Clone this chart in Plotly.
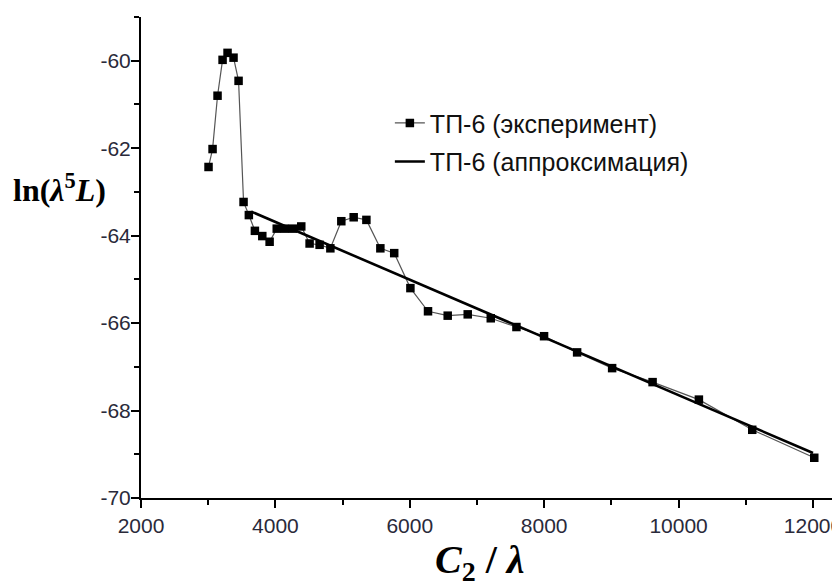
import plotly.graph_objects as go

# Experimental data: C2/lambda vs ln(lambda^5 L)
exp_x = [3005, 3065, 3139, 3214, 3288, 3377, 3452, 3526, 3605, 3695, 3805, 3914,
         4020, 4140, 4260, 4385, 4509, 4658, 4818, 4981, 5165, 5354, 5562, 5768,
         6009, 6271, 6564, 6862, 7205, 7587, 7998, 8490, 9011, 9613, 10302, 11096, 12019]
exp_y = [-62.43, -62.02, -60.80, -59.98, -59.82, -59.93, -60.46, -63.23, -63.53, -63.89,
         -64.01, -64.14, -63.84, -63.84, -63.84, -63.79, -64.18, -64.21, -64.29, -63.67,
         -63.58, -63.64, -64.29, -64.40, -65.20, -65.73, -65.83, -65.80, -65.89, -66.09,
         -66.30, -66.67, -67.03, -67.35, -67.75, -68.44, -69.08]

# Linear approximation endpoints
fit_x = [3640, 12000]
fit_y = [-63.45, -68.97]

x_ticks = [2000, 4000, 6000, 8000, 10000, 12000]
y_ticks = [-70, -68, -66, -64, -62, -60]

fig = go.Figure()
fig.add_trace(go.Scatter(
    x=exp_x, y=exp_y, mode="lines+markers", name="ТП-6 (эксперимент)",
    legendgroup="e", legendrank=1,
    line=dict(color="#555555", width=1.2),
    marker=dict(symbol="square", size=8.5, color="black")))
fig.add_trace(go.Scatter(
    x=fit_x, y=fit_y, mode="lines", name="ТП-6 (аппроксимация)",
    legendgroup="f", legendrank=2,
    line=dict(color="black", width=2.6)))

tickfont = dict(family="Liberation Sans Narrow, Liberation Sans, Arial", size=21, color="#2a2a3a")

fig.update_layout(
    width=840, height=584,
    paper_bgcolor="white", plot_bgcolor="white",
    margin=dict(l=133, r=0, t=9, b=94, autoexpand=False),
    showlegend=True,
    legend=dict(x=0.352, y=0.827, xanchor="left", yanchor="top",
                bgcolor="rgba(0,0,0,0)", borderwidth=0,
                font=dict(family="Liberation Sans, Arial", size=25, color="#111"),
                tracegroupgap=3),
    xaxis=dict(range=[2000, 12521], tickvals=x_ticks, ticktext=[str(v) for v in x_ticks],
               automargin=False, ticklabeloverflow="allow", ticklabelstandoff=0,
               showgrid=False, zeroline=False, showline=True, linecolor="black", linewidth=2,
               ticks="outside", ticklen=8, tickwidth=1.5, tickcolor="black",
               minor=dict(dtick=1000, tick0=1000, ticks="outside", ticklen=5, tickwidth=1.5, tickcolor="black"),
               tickfont=tickfont),
    yaxis=dict(range=[-70, -59], tickvals=y_ticks, ticktext=[str(v) for v in y_ticks],
               automargin=False, ticklabeloverflow="allow", ticklabelstandoff=-4,
               showgrid=False, zeroline=False, showline=True, linecolor="black", linewidth=2,
               ticks="outside", ticklen=8, tickwidth=1.5, tickcolor="black",
               minor=dict(dtick=1, tick0=-59, ticks="outside", ticklen=5, tickwidth=1.5, tickcolor="black"),
               tickfont=tickfont),
    annotations=[
        dict(text="<b>ln(<i>λ</i><sup>5</sup><i>L</i>)</b>", xref="paper", yref="paper",
             x=-0.1146, y=0.644, xanchor="center", yanchor="middle", showarrow=False,
             font=dict(family="Liberation Serif, Times New Roman, serif", size=32, color="black")),
        dict(text="<b><i>C</i><sub>2</sub> / <i>λ</i></b>", xref="paper", yref="paper",
             x=0.4795, y=-0.133, xanchor="center", yanchor="middle", showarrow=False,
             font=dict(family="Liberation Serif, Times New Roman, serif", size=40, color="black")),
    ],
)

fig.write_html("out.html")
